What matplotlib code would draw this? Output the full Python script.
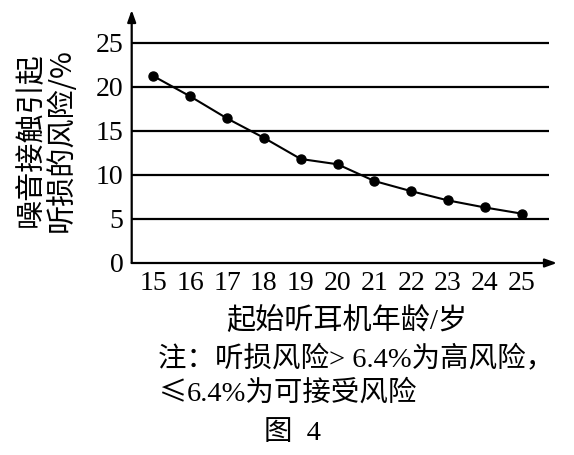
import matplotlib
matplotlib.use("Agg")
import matplotlib.pyplot as plt

# data
ages = [15, 16, 17, 18, 19, 20, 21, 22, 23, 24, 25]
risk = [21.2, 18.9, 16.4, 14.2, 11.8, 11.2, 9.3, 8.15, 7.1, 6.3, 5.6]
yticks = [0, 5, 10, 15, 20, 25]

num_font = ['Liberation Serif', 'Noto Sans CJK SC']
cjk_font = ['Noto Sans CJK SC', 'DejaVu Sans']

W, H = 574, 455
fig = plt.figure(figsize=(W / 100, H / 100), dpi=100)
fig.patch.set_facecolor('white')

# axes from origin pixel (131.7, 263) to arrow tips (557, 10)
x0, y0, x1, y1 = 131.7, 263, 557, 10
ax = fig.add_axes([x0 / W, 1 - y0 / H, (x1 - x0) / W, (y0 - y1) / H])
xmin, xmax = 14.41, 25.96
ymin, ymax = 0, 28.7
ax.set_xlim(xmin, xmax)
ax.set_ylim(ymin, ymax)
for s in ax.spines.values():
    s.set_visible(False)

# grid lines
ax.hlines(yticks[1:], xmin, 25.74, color='black', lw=1.6, zorder=1)

# axes with arrows
arrow = dict(arrowstyle='-|>,head_length=0.7,head_width=0.25', color='black', lw=1.6,
             shrinkA=0, shrinkB=0)
ax.annotate('', xy=(xmax, 0), xytext=(xmin, 0), arrowprops=arrow, annotation_clip=False)
ax.annotate('', xy=(xmin, ymax), xytext=(xmin, 0), arrowprops=arrow, annotation_clip=False)

ax.plot(ages, risk, color='black', lw=1.5, marker='o', markersize=6.5, zorder=3,
        clip_on=False)

ax.set_xticks(ages)
ax.set_xticklabels([str(a) for a in ages], family=num_font, fontsize=20)
ax.set_yticks(yticks)
ax.set_yticklabels([str(v) for v in yticks], family=num_font, fontsize=20)
ax.tick_params(length=0, pad=6)

fig.text(46 / W, 1 - 140 / H, '噪音接触引起\n听损的风险/%', rotation=90,
         ha='center', va='center', family=cjk_font, fontsize=21, linespacing=1.05)
fig.text(347 / W, 1 - 320 / H, '起始听耳机年龄/岁', ha='center', va='center',
         family=num_font, fontsize=21)
fig.text(158 / W, 1 - 360 / H, '注：听损风险> 6.4%为高风险，', ha='left', va='center',
         family=num_font, fontsize=20.5)
fig.text(158 / W, 1 - 393 / H, '≤', ha='left', va='center',
         family=cjk_font, fontsize=20.5)
fig.text(187 / W, 1 - 393 / H, '6.4%为可接受风险', ha='left', va='center',
         family=num_font, fontsize=20.5)
fig.text(292 / W, 1 - 433 / H, '图  4', ha='center', va='center',
         family=num_font, fontsize=20.5)

fig.savefig('out.png', dpi=100)
